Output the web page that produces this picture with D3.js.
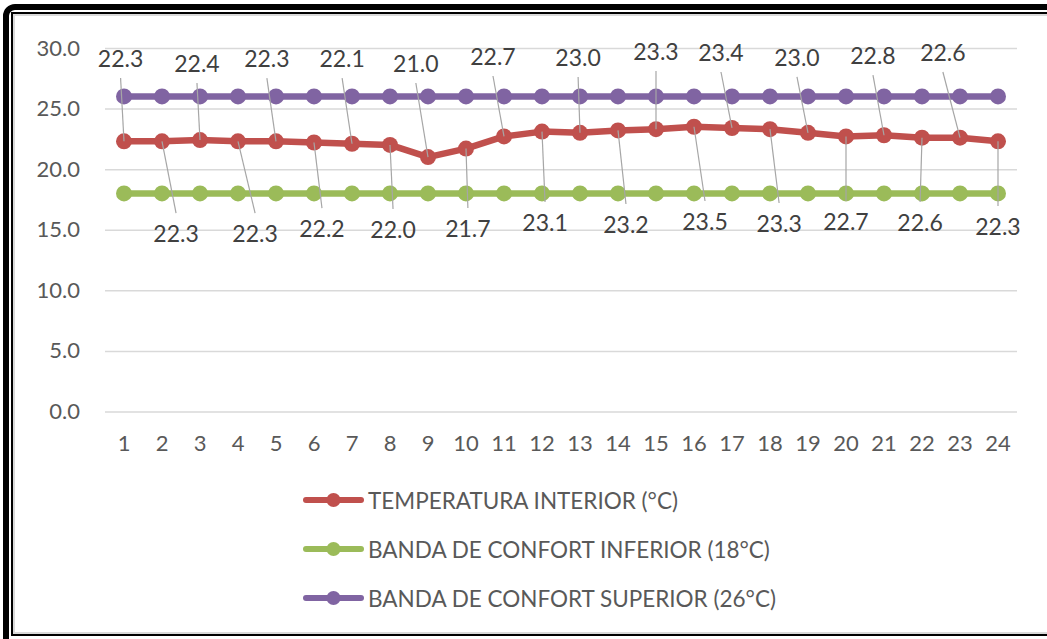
<!DOCTYPE html>
<html>
<head>
<meta charset="utf-8">
<script src="https://cdn.jsdelivr.net/npm/d3@7"></script>
<style>
  html, body { margin: 0; padding: 0; background: #ffffff; }
  svg { display: block; }
  text { font-family: Lato, "Open Sans", sans-serif; }
</style>
</head>
<body>
<svg id="chart" width="1047" height="639"></svg>
<script>
// Hours of the day
const hours = d3.range(1, 25);

// Indoor temperature per hour (°C)
const tempInterior = [22.3, 22.3, 22.4, 22.3, 22.3, 22.2, 22.1, 22.0, 21.0, 21.7, 22.7, 23.1,
                      23.0, 23.2, 23.3, 23.5, 23.4, 23.3, 23.0, 22.7, 22.8, 22.6, 22.6, 22.3];

// Comfort band limits (°C)
const bandaInferior = hours.map(() => 18);
const bandaSuperior = hours.map(() => 26);

// Y axis ticks
const yTicks = [0, 5, 10, 15, 20, 25, 30];

const seriesNames = [
  "TEMPERATURA INTERIOR (°C)",
  "BANDA DE CONFORT INFERIOR (18°C)",
  "BANDA DE CONFORT SUPERIOR (26°C)"
];
const seriesColors = ["#C0504D", "#9BBB59", "#8064A2"];

// Data-label placement: [shift along x in category steps, label centre in °C]
const labelPlacement = [
  [-0.09, 29.17], [0.37, 14.73], [-0.08, 28.76], [0.45, 14.73], [-0.24, 29.17], [0.21, 15.14],
  [-0.26, 29.17], [0.08, 15.06], [-0.32, 28.76], [0.05, 15.14], [-0.29, 29.34], [0.08, 15.64],
  [-0.05, 29.26], [0.21, 15.47], [0.00, 29.75], [0.29, 15.72], [-0.29, 29.67], [0.24, 15.56],
  [-0.29, 29.26], [0.00, 15.72], [-0.29, 29.42], [-0.05, 15.64], [-0.45, 29.67], [0.00, 15.31]
];

const svg = d3.select("#chart");

// ---- frame ----
svg.append("rect").attr("x", 6).attr("y", 7).attr("width", 1080).attr("height", 680)
  .attr("rx", 9).attr("fill", "none").attr("stroke", "#000").attr("stroke-width", 6);
svg.append("rect").attr("x", 12).attr("y", 13).attr("width", 1060).attr("height", 622)
  .attr("fill", "none").attr("stroke", "#000").attr("stroke-width", 2);
svg.append("rect").attr("x", 14).attr("y", 15).attr("width", 1060).attr("height", 618)
  .attr("fill", "#fff").attr("stroke", "#d9d9d9").attr("stroke-width", 2);

// ---- scales ----
const plot = { left: 105, right: 1017, top: 48, bottom: 411.5 };
const x = d3.scaleBand().domain(hours).range([plot.left, plot.right]);
const cx = d => x(d) + x.bandwidth() / 2;
const y = d3.scaleLinear().domain([0, 30]).range([plot.bottom, plot.top]);

// ---- gridlines ----
svg.append("g")
  .attr("transform", `translate(${plot.left},0)`)
  .call(d3.axisLeft(y).tickValues(yTicks).tickSize(-(plot.right - plot.left)).tickFormat(""))
  .call(g => g.select(".domain").remove())
  .call(g => g.selectAll("line").attr("stroke", "#d9d9d9").attr("stroke-width", 1.5));

// ---- y axis labels ----
svg.append("g")
  .attr("transform", `translate(${plot.left},0)`)
  .call(d3.axisLeft(y).tickValues(yTicks).tickSize(0).tickPadding(25).tickFormat(d3.format(".1f")))
  .call(g => g.select(".domain").remove())
  .call(g => g.selectAll("text").attr("fill", "#595959").style("font-size", "22px")
    .style("font-family", "Lato, sans-serif"));

// ---- x axis labels ----
svg.append("g")
  .attr("transform", `translate(0,${plot.bottom})`)
  .call(d3.axisBottom(x).tickSize(0).tickPadding(24))
  .call(g => g.select(".domain").remove())
  .call(g => g.selectAll("text").attr("fill", "#595959").style("font-size", "22px")
    .style("font-family", "Lato, sans-serif"));

// ---- series ----
const seriesData = [tempInterior, bandaInferior, bandaSuperior];
const line = d3.line().x((d, i) => cx(hours[i])).y(d => y(d));

const drawOrder = [2, 1, 0];
drawOrder.forEach(s => {
  const vals = seriesData[s];
  const g = svg.append("g");
  g.append("path").datum(vals).attr("d", line)
    .attr("fill", "none").attr("stroke", seriesColors[s]).attr("stroke-width", 6.5)
    .attr("stroke-linejoin", "round");
  g.selectAll("circle").data(vals).join("circle")
    .attr("cx", (d, i) => cx(hours[i])).attr("cy", d => y(d)).attr("r", 8)
    .attr("fill", seriesColors[s]);
});

// ---- data labels with leader lines ----
const step = x.step();
const labels = svg.append("g");
tempInterior.forEach((v, i) => {
  const [dx, ly] = labelPlacement[i];
  const lx = cx(hours[i]) + dx * step;
  const lyPx = y(ly);
  const above = lyPx < y(v);
  const lineEnd = above ? lyPx + 20 : lyPx - 20;
  labels.append("line")
    .attr("x1", lx).attr("y1", lineEnd).attr("x2", cx(hours[i])).attr("y2", y(v))
    .attr("stroke", "#a6a6a6").attr("stroke-width", 1.2);
});
tempInterior.forEach((v, i) => {
  const [dx, ly] = labelPlacement[i];
  labels.append("text")
    .attr("x", cx(hours[i]) + dx * step).attr("y", y(ly))
    .attr("text-anchor", "middle").attr("dominant-baseline", "central")
    .attr("fill", "#404040").style("font-size", "23px")
    .text(d3.format(".1f")(v));
});

// ---- legend ----
const legend = svg.append("g");
const legendRows = [500, 549, 598];
seriesNames.forEach((name, i) => {
  const row = legend.append("g").attr("transform", `translate(0,${legendRows[i]})`);
  row.append("line").attr("x1", 306).attr("x2", 361).attr("y1", 0).attr("y2", 0)
    .attr("stroke", seriesColors[i]).attr("stroke-width", 6).attr("stroke-linecap", "round");
  row.append("circle").attr("cx", 333.5).attr("cy", 0).attr("r", 7).attr("fill", seriesColors[i]);
  row.append("text").attr("x", 368).attr("y", 0).attr("dominant-baseline", "central")
    .attr("fill", "#595959").style("font-size", "22.5px").text(name);
});
</script>
</body>
</html>
